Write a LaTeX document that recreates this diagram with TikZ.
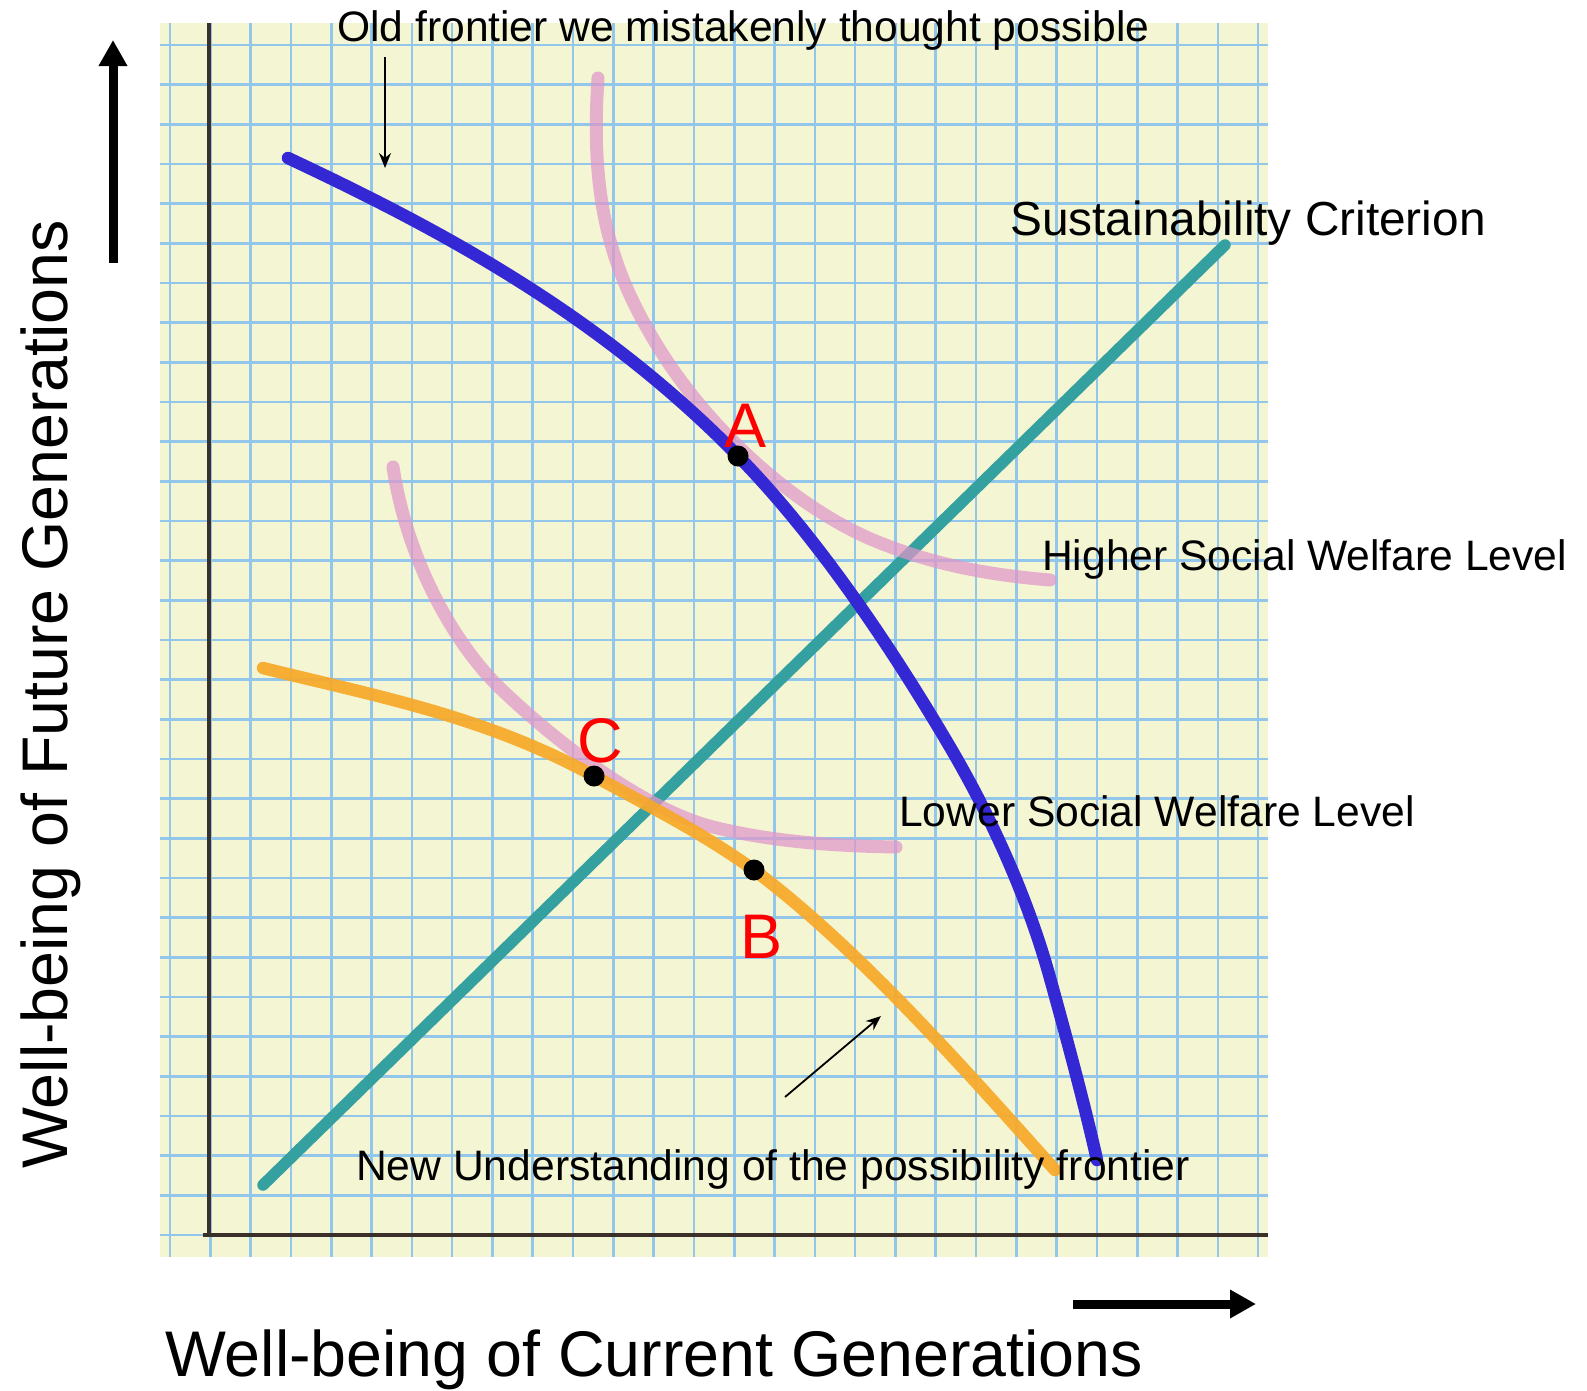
\documentclass[tikz,border=0pt]{standalone}
\usepackage{fontspec}
\setmainfont{Liberation Sans}
\usetikzlibrary{arrows.meta}

\definecolor{paper}{RGB}{244,245,210}
\definecolor{gridblue}{RGB}{146,198,234}
\definecolor{axisbrown}{RGB}{58,48,42}
\definecolor{penblue}{RGB}{52,40,212}
\definecolor{penorange}{RGB}{247,168,40}
\definecolor{penteal}{RGB}{52,160,160}
\definecolor{penpink}{RGB}{224,150,202}

\begin{document}
\begin{tikzpicture}[x=1pt,y=-1pt,
  gridline/.style={gridblue,line width=2.6pt},
  axisline/.style={axisbrown,line width=3.8pt},
  pen/.style={line width=12.5pt,line cap=round,line join=round},
  marker/.style={pen,line width=13pt,penpink,opacity=0.72},
  dot/.style={circle,fill=black,inner sep=0pt,minimum size=21pt},
  ptlabel/.style={text=red,font=\fontsize{63}{70}\selectfont,anchor=base,inner sep=0pt},
  note/.style={font=\fontsize{42.6}{50}\selectfont,anchor=base west,inner sep=0pt},
  axislabel/.style={font=\fontsize{64.5}{72}\selectfont,anchor=base west,inner sep=0pt},
  thinarrow/.style={line width=1.8pt,-{Stealth[length=15pt,width=12pt]}},
  bigarrow/.style={line width=9pt,-{Triangle[length=26pt,width=27pt]}}
]
\useasboundingbox (0,0) rectangle (1587,1390);

% graph paper
\fill[paper] (160,23) rectangle (1268,1257);
\foreach \k in {0,...,27}
  \draw[gridline] ({170+40.3*\k},23) -- ({170+40.3*\k},1257);
\foreach \k in {0,...,30}
  \draw[gridline] (160,{45+39.67*\k}) -- (1268,{45+39.67*\k});

% hand-drawn axes
\draw[axisline] (209,23) -- (209,1236);
\draw[axisline] (203,1235) -- (1268,1235);

% sustainability criterion
\coordinate (susLow) at (263,1185);
\coordinate (susHigh) at (1225,245);
\draw[pen,line width=11.5pt,penteal] (susLow) -- (susHigh);

% higher social welfare level
\draw[marker] (598,78) .. controls (590,200) and (610,270) .. (660,350)
  .. controls (710,430) and (793,506) .. (873,540)
  .. controls (933,565) and (990,575) .. (1050,580);

% lower social welfare level
\draw[marker] (393,467) .. controls (406.5,557) and (452,642.5) .. (502,690)
  .. controls (572,756.5) and (653,812) .. (713,827)
  .. controls (773,842) and (836,846) .. (896,847);

% old possibility frontier
\draw[pen,penblue] (288,158) .. controls (438,228.5) and (598,313) .. (738,456)
  .. controls (808,527.4) and (880,628) .. (950,747)
  .. controls (985,806.5) and (1025,888) .. (1050,978)
  .. controls (1065,1032) and (1085,1106) .. (1097,1160);

% new possibility frontier
\draw[pen,penorange,opacity=0.92] (263,668) .. controls (373,695.5) and (484,715.5) .. (594,776)
  .. controls (647,805) and (701,832) .. (754,870)
  .. controls (854,945) and (955,1058) .. (1055,1170);

% points
\node[dot] (ptA) at (738,456) {};
\node[dot] (ptC) at (594,776) {};
\node[dot] (ptB) at (754,870) {};
\node[ptlabel] (labA) at (746,447) {A};
\node[ptlabel] (labC) at (600,762) {C};
\node[ptlabel] (labB) at (762,958) {B};

% annotations
\node[note] (oldnote) at (337,41.5) {Old frontier we mistakenly thought possible};
\coordinate (oldTail) at (385,57);
\coordinate (oldTip) at (385,168);
\draw[thinarrow] (oldTail) -- (oldTip);

\node[note,font=\fontsize{47.8}{55}\selectfont] (susnote) at (1010,235) {Sustainability Criterion};
\node[note] (highnote) at (1042,570) {Higher Social Welfare Level};
\node[note] (lownote) at (899,826) {Lower Social Welfare Level};
\node[note] (newnote) at (356,1180) {New Understanding of the possibility frontier};
\coordinate (newTail) at (785,1097);
\coordinate (newTip) at (881,1016);
\draw[thinarrow] (newTail) -- (newTip);

% axis titles and direction arrows
\node[axislabel] (xtitle) at (165,1376) {Well-being of Current Generations};
\node[axislabel,rotate=90] (ytitle) at (67,1169) {Well-being of Future Generations};
\coordinate (upTail) at (113,263);
\coordinate (upTip) at (113,40);
\draw[bigarrow] (upTail) -- (upTip);
\coordinate (rightTail) at (1073,1304);
\coordinate (rightTip) at (1256,1304);
\draw[bigarrow] (rightTail) -- (rightTip);
\end{tikzpicture}
\end{document}
